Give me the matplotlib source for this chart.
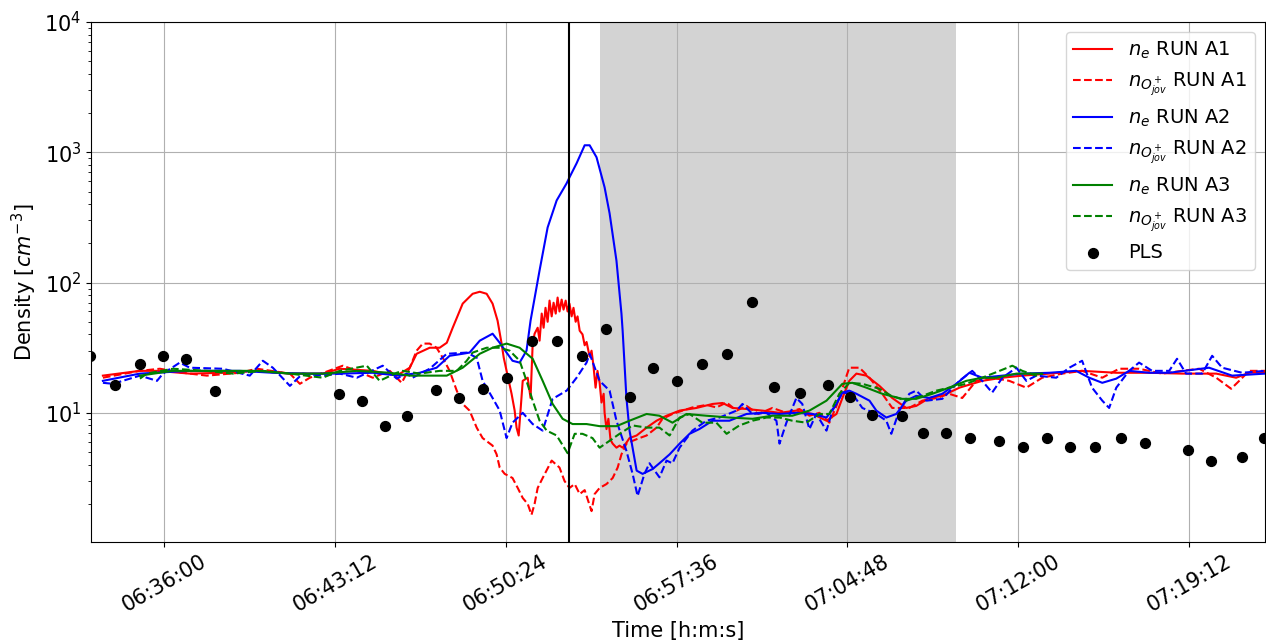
import numpy as np
import matplotlib
matplotlib.use("Agg")
import matplotlib.pyplot as plt
import matplotlib.dates as mdates

# times in minutes after 06:00:00 ; densities in cm^-3
t_ne_a1 = [33.43, 34.99, 35.71, 37.09, 38.48, 39.92, 41.31, 42.69, 43.41, 44.80, 45.81, 46.36, 46.65, 47.20, 47.62,
           47.92, 48.17, 48.59, 49.01, 49.31, 49.60, 49.85, 50.06, 50.23, 50.32, 50.44, 50.65, 50.78, 50.86, 50.95,
           51.12, 51.33, 51.45, 51.54, 51.62, 51.75, 51.83, 51.92, 52.00, 52.08, 52.17, 52.25, 52.34, 52.42, 52.51,
           52.59, 52.67, 52.76, 52.84, 52.93, 53.01, 53.09, 53.18, 53.26, 53.35, 53.43, 53.52, 53.64, 53.73, 53.81,
           53.94, 54.02, 54.10, 54.19, 54.27, 54.36, 54.44, 54.53, 54.57, 54.65, 54.73, 54.82, 54.91, 55.07, 55.20,
           55.33, 55.49, 55.62, 55.92, 56.34, 56.76, 57.18, 57.73, 58.44, 59.12, 59.54, 59.96, 60.55, 61.22, 61.94,
           62.65, 63.33, 63.92, 64.34, 64.59, 64.88, 65.18, 65.60, 66.15, 66.69, 67.28, 67.70, 68.25, 68.80, 69.52,
           70.48, 71.33, 72.17, 73.31, 74.69, 76.13, 77.52, 78.90, 80.34, 81.18, 81.73, 82.40]
ne_a1 = [19.3, 21.0, 21.0, 20.0, 20.3, 21.0, 20.0, 20.0, 21.8, 21.0, 19.3, 22.2, 28.4, 31.6, 31.6,
         34.5, 45.0, 68.9, 82.0, 85.0, 82.0, 68.9, 51.0, 34.0, 26.5, 21.0, 14.0, 10.4, 7.7, 6.7,
         17.6, 18.6, 13.0, 34.0, 40.5, 45.0, 35.8, 57.8, 45.0, 64.0, 50.0, 72.7, 55.0, 70.0, 57.8,
         76.7, 60.0, 74.0, 62.0, 72.7, 60.0, 68.9, 55.0, 64.0, 50.0, 55.0, 42.7, 40.0, 33.0, 35.0,
         27.0, 30.0, 23.0, 15.6, 21.0, 17.0, 12.0, 14.0, 10.0, 7.5, 9.0, 6.2, 5.8, 5.4, 5.6,
         5.4, 5.9, 6.4, 6.7, 7.7, 8.7, 9.5, 10.4, 10.9, 11.7, 11.9, 10.9, 10.7, 10.4, 10.0,
         10.4, 9.8, 8.7, 9.8, 13.0, 17.6, 20.0, 19.3, 16.1, 13.0, 10.9, 11.3, 13.0, 13.5, 15.6,
         17.6, 18.6, 19.3, 20.0, 21.0, 20.3, 20.3, 20.0, 20.0, 18.6, 20.3, 20.6]

t_no_a1 = [33.43, 34.99, 35.83, 36.80, 37.81, 39.20, 39.92, 41.31, 41.73, 42.15, 43.54, 44.13, 44.80, 45.52, 46.02,
           46.36, 46.65, 46.91, 47.20, 47.49, 47.75, 48.04, 48.34, 48.59, 48.88, 49.18, 49.43, 49.85, 50.02, 50.15,
           50.36, 50.69, 50.91, 51.12, 51.33, 51.49, 51.62, 51.75, 51.96, 52.34, 52.67, 52.88, 53.09, 53.31, 53.52,
           53.73, 54.02, 54.15, 54.36, 54.65, 54.91, 55.12, 55.28, 55.49, 55.75, 56.04, 56.34, 56.76, 57.01, 57.43,
           57.85, 58.27, 58.86, 59.28, 59.71, 60.13, 60.55, 61.05, 61.64, 62.23, 62.78, 63.20, 63.62, 64.04, 64.34,
           64.88, 65.31, 65.73, 66.27, 66.69, 67.41, 67.96, 68.55, 69.09, 69.64, 70.23, 70.90, 71.62, 72.34, 73.01,
           73.85, 74.69, 75.54, 76.25, 77.09, 78.06, 78.90, 79.62, 80.34, 80.97, 81.31, 81.73, 82.40]
no_a1 = [18.6, 21.0, 21.8, 20.3, 19.3, 20.3, 21.8, 20.0, 16.7, 18.6, 23.0, 21.0, 18.6, 21.0, 17.0,
         22.2, 30.0, 34.0, 34.0, 31.6, 26.5, 21.0, 14.8, 11.7, 10.4, 7.7, 6.4, 5.6, 4.8, 3.8,
         3.4, 3.16, 2.65, 2.22, 2.0, 1.65, 2.0, 2.65, 3.16, 4.3, 3.8, 3.0, 2.65, 2.84, 2.38,
         2.55, 1.76, 2.38, 2.65, 2.84, 3.16, 3.8, 4.8, 5.8, 6.1, 6.4, 6.7, 7.7, 9.0, 9.8,
         10.4, 11.0, 11.5, 11.0, 12.0, 10.4, 11.3, 9.8, 10.9, 10.0, 10.7, 9.5, 10.0, 8.4, 11.3,
         22.2, 22.2, 18.6, 14.0, 10.9, 10.9, 12.4, 13.0, 14.0, 13.0, 17.6, 18.6, 17.6, 15.6, 18.6,
         20.0, 21.0, 18.6, 21.8, 21.8, 20.0, 21.0, 21.8, 18.6, 15.3, 17.6, 21.0, 21.0]

t_ne_a2 = [33.43, 34.99, 37.09, 39.20, 40.59, 42.02, 43.41, 44.80, 45.09, 45.94, 46.78, 47.49, 48.04, 48.59, 48.88,
           49.31, 49.85, 50.15, 50.44, 50.69, 50.99, 51.28, 51.45, 51.83, 52.17, 52.55, 52.97, 53.09, 53.39, 53.73,
           53.94, 54.23, 54.57, 54.78, 55.07, 55.28, 55.33, 55.49, 55.62, 55.92, 56.17, 56.59, 56.88, 57.31, 57.73,
           58.15, 58.56, 59.12, 59.83, 60.55, 61.22, 61.94, 62.65, 63.33, 63.92, 64.34, 64.59, 64.88, 65.18, 65.73,
           66.02, 66.44, 66.86, 67.28, 67.70, 68.25, 68.80, 69.39, 69.94, 70.48, 71.33, 72.17, 73.31, 74.44, 74.99,
           75.54, 76.13, 76.67, 77.52, 78.36, 80.04, 81.01, 82.40]
ne_a2 = [17.6, 20.0, 21.0, 21.0, 20.3, 20.0, 20.0, 20.3, 20.0, 19.3, 20.3, 22.2, 27.4, 28.4, 29.0,
         35.8, 40.5, 34.5, 29.0, 25.1, 24.3, 30.0, 51.0, 124.0, 265.0, 427.0, 578.0, 642.0, 823.0, 1132.0,
         1132.0, 916.0, 538.0, 340.0, 147.0, 57.8, 42.7, 13.0, 7.3, 3.6, 3.4, 3.7, 4.1, 4.8, 5.8,
         6.9, 7.5, 8.7, 8.7, 9.8, 10.0, 9.8, 10.0, 9.8, 9.2, 11.7, 14.3, 14.8, 14.0, 12.4,
         10.4, 9.2, 9.8, 12.4, 13.5, 13.0, 14.0, 16.7, 20.3, 18.6, 19.3, 20.0, 20.3, 21.0, 18.6,
         17.0, 18.3, 21.0, 20.3, 20.3, 22.2, 19.3, 20.0]

t_no_a2 = [33.43, 33.85, 34.99, 35.71, 35.96, 36.67, 37.09, 38.48, 39.62, 40.17, 40.59, 41.31, 41.85, 42.69, 43.41,
           44.13, 45.22, 45.81, 46.23, 46.48, 47.20, 47.92, 48.76, 49.18, 49.43, 49.85, 50.15, 50.44, 50.69, 51.12,
           51.54, 51.96, 52.38, 52.97, 53.39, 53.81, 53.94, 54.36, 54.78, 55.07, 55.49, 55.75, 55.96, 56.25, 56.46,
           56.88, 57.18, 57.43, 57.73, 58.27, 58.86, 59.41, 60.13, 60.38, 60.80, 61.39, 61.81, 61.94, 62.23, 62.65,
           62.90, 63.20, 63.49, 63.92, 64.17, 64.59, 65.01, 65.43, 66.02, 66.44, 66.65, 66.99, 67.41, 67.70, 68.13,
           68.80, 69.52, 70.06, 70.48, 70.90, 71.33, 71.92, 72.34, 72.76, 73.60, 74.15, 74.69, 75.11, 75.54, 75.83,
           76.13, 76.67, 77.09, 77.64, 78.36, 78.69, 79.07, 79.75, 80.17, 80.59, 81.43, 82.40]
no_a2 = [17.0, 16.7, 19.3, 17.6, 20.0, 24.3, 22.2, 21.8, 19.3, 25.1, 22.2, 16.1, 20.0, 19.3, 20.0,
         18.6, 23.0, 18.3, 20.0, 18.6, 21.8, 28.4, 29.0, 26.5, 17.6, 13.0, 10.4, 6.4, 8.4, 10.0,
         8.2, 7.3, 12.8, 14.8, 18.6, 24.3, 28.4, 17.6, 14.8, 8.7, 5.1, 3.4, 2.3, 3.4, 4.1,
         3.2, 4.3, 4.1, 5.4, 7.3, 8.7, 9.2, 10.4, 11.7, 9.8, 10.0, 8.7, 5.8, 8.4, 13.0,
         11.7, 7.5, 9.8, 7.3, 10.4, 14.3, 14.0, 10.9, 9.8, 8.7, 6.9, 10.4, 14.0, 14.8, 12.4,
         12.8, 17.6, 21.0, 17.6, 14.3, 18.6, 22.2, 17.6, 19.3, 18.6, 22.2, 25.1, 15.6, 12.4, 10.9,
         15.6, 21.0, 24.3, 21.0, 21.0, 26.0, 20.0, 20.0, 27.4, 22.2, 20.3, 21.0]

t_ne_a3 = [34.99, 36.38, 38.48, 39.92, 41.31, 42.69, 44.13, 45.52, 46.36, 47.92, 48.59, 49.31, 49.85, 50.44, 50.99,
           51.54, 51.96, 52.38, 52.80, 53.22, 53.81, 54.36, 55.07, 55.62, 56.34, 56.88, 57.43, 58.02, 58.86, 59.83,
           60.80, 61.64, 62.48, 63.20, 63.92, 64.59, 65.01, 65.60, 66.27, 67.11, 67.70, 68.38, 69.09, 69.81, 70.48,
           71.07, 71.92, 73.01]
ne_a3 = [19.3, 21.0, 21.0, 21.0, 20.0, 20.0, 21.0, 20.3, 19.3, 19.3, 22.2, 28.4, 31.6, 34.0, 31.6,
         26.0, 17.6, 11.7, 9.0, 8.2, 8.2, 7.9, 7.9, 8.7, 9.8, 9.5, 8.4, 9.8, 9.5, 9.2,
         9.0, 9.5, 9.5, 10.4, 12.4, 16.7, 17.0, 15.6, 14.0, 12.8, 12.8, 14.0, 15.6, 17.6, 18.6,
         18.6, 20.0, 20.0]

t_no_a3 = [34.99, 35.28, 36.38, 37.81, 38.91, 40.17, 41.31, 42.69, 43.41, 44.55, 45.09, 45.81, 46.06, 46.78, 47.62,
           48.34, 48.76, 49.01, 49.60, 50.15, 50.57, 50.99, 51.28, 51.54, 51.83, 52.13, 52.55, 53.01, 53.31, 53.64,
           54.06, 54.36, 54.78, 55.20, 55.75, 56.34, 56.88, 57.31, 57.73, 58.15, 58.69, 59.28, 59.71, 60.25, 60.80,
           61.39, 61.94, 62.48, 63.07, 63.62, 64.04, 64.46, 64.88, 65.43, 66.15, 66.65, 67.28, 67.96, 68.55, 69.09,
           69.81, 70.48, 71.07, 71.75, 72.17, 72.76, 73.01]
no_a3 = [18.3, 20.0, 21.8, 21.0, 20.0, 21.0, 20.0, 18.6, 21.0, 23.0, 17.6, 20.3, 21.0, 20.0, 21.0,
         21.0, 25.1, 29.0, 31.6, 31.6, 30.0, 25.1, 17.6, 12.4, 8.7, 7.3, 6.7, 4.9, 6.9, 6.9,
         6.4, 5.4, 6.1, 6.9, 8.0, 7.7, 7.7, 6.7, 9.2, 9.8, 8.4, 8.4, 6.9, 8.0, 8.7,
         9.2, 9.2, 8.7, 8.4, 9.8, 9.8, 14.0, 17.0, 16.7, 15.3, 13.5, 12.4, 13.5, 14.8, 15.6,
         16.7, 18.6, 20.5, 23.0, 21.0, 19.3, 20.0]

t_pls = [32.90, 33.94, 34.99, 35.96, 36.93, 38.15, 43.37, 44.34, 45.30, 46.23, 47.45, 48.42, 49.43, 50.44, 51.49,
         52.55, 53.60, 54.61, 55.66, 56.63, 57.64, 58.69, 59.74, 60.80, 61.72, 62.82, 63.99, 64.93, 65.85, 67.11,
         68.00, 68.97, 69.98, 71.20, 72.21, 73.22, 74.19, 75.24, 76.33, 77.34, 79.15, 80.12, 81.43, 82.36]
pls = [27.5, 16.4, 23.8, 27.5, 26.0, 14.8, 14.0, 12.4, 7.9, 9.5, 15.0, 13.0, 15.3, 18.6, 35.8,
       35.8, 27.5, 44.2, 13.3, 22.2, 17.6, 23.8, 28.4, 70.4, 15.7, 14.3, 16.4, 13.3, 9.7, 9.5,
       7.0, 7.0, 6.4, 6.1, 5.5, 6.4, 5.5, 5.5, 6.4, 5.9, 5.2, 4.3, 4.6, 6.4]

event_time = 53.05          # vertical line (minutes after 06:00)
span_start, span_end = 54.36, 69.39
x_min, x_max = 32.93, 82.38

base = np.datetime64('2000-01-01T06:00:00')

def to_dt(m):
    return base + (np.asarray(m) * 60000).round().astype('timedelta64[ms]')

fig = plt.figure(figsize=(12.66, 6.42), dpi=100)
ax = fig.add_axes([0.0719, 0.1558, 0.927, 0.8099])

ax.axvspan(to_dt(span_start), to_dt(span_end), color='lightgray', zorder=0.5, lw=0)
ax.plot(to_dt(t_ne_a1), ne_a1, color='red', ls='-', lw=1.5, label=r'$n_e$ RUN A1')
ax.plot(to_dt(t_no_a1), no_a1, color='red', ls='--', lw=1.5, label=r'$n_{O^+_{jov}}$ RUN A1')
ax.plot(to_dt(t_ne_a2), ne_a2, color='blue', ls='-', lw=1.5, label=r'$n_e$ RUN A2')
ax.plot(to_dt(t_no_a2), no_a2, color='blue', ls='--', lw=1.5, label=r'$n_{O^+_{jov}}$ RUN A2')
ax.plot(to_dt(t_ne_a3), ne_a3, color='green', ls='-', lw=1.5, label=r'$n_e$ RUN A3')
ax.plot(to_dt(t_no_a3), no_a3, color='green', ls='--', lw=1.5, label=r'$n_{O^+_{jov}}$ RUN A3')
ax.scatter(to_dt(t_pls), pls, color='black', s=50, zorder=3, label='PLS')
ax.axvline(to_dt(event_time), color='black', lw=1.5)

ax.set_yscale('log')
ax.set_ylim(1.02, 1e4)
ax.set_xlim(to_dt(x_min), to_dt(x_max))

tick_minutes = [36.0, 43.2, 50.4, 57.6, 64.8, 72.0, 79.2]
ax.set_xticks(to_dt(tick_minutes))
ax.xaxis.set_major_formatter(mdates.DateFormatter('%H:%M:%S'))
ax.tick_params(axis='both', labelsize=15)
plt.setp(ax.get_xticklabels(), rotation=30)

ax.grid(True, which='major', color='#b0b0b0', lw=0.8)
ax.set_xlabel('Time [h:m:s]', fontsize=15)
ax.set_ylabel(r'Density [$cm^{-3}$]', fontsize=15)
ax.legend(loc='upper right', fontsize=14)

fig.savefig('out.png', dpi=100)
